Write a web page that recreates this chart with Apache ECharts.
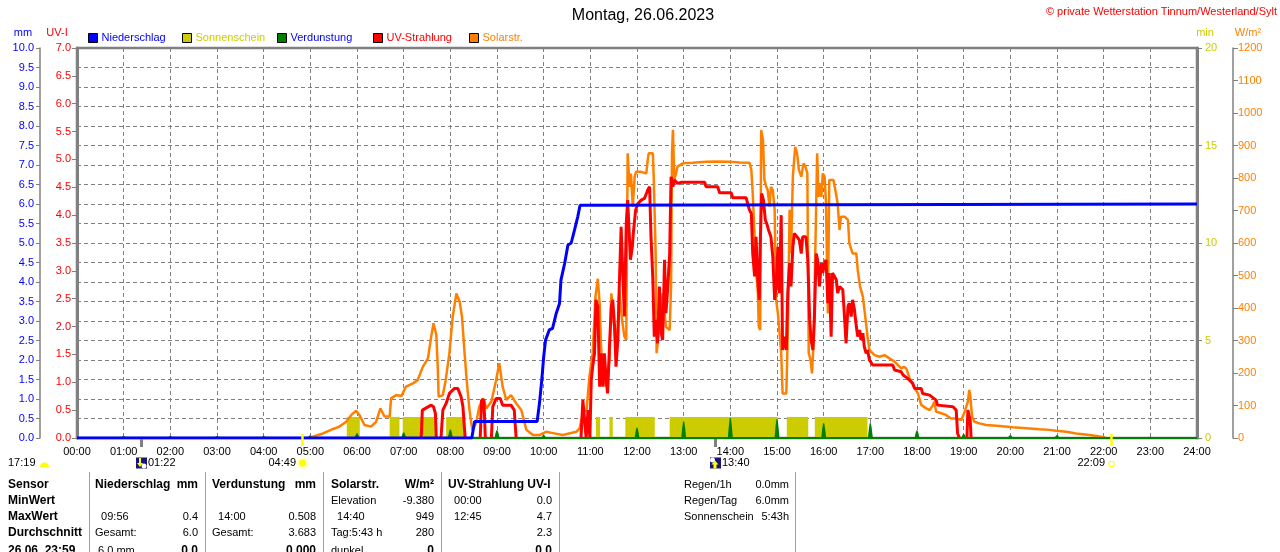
<!DOCTYPE html>
<html>
<head>
<meta charset="utf-8">
<title>Wetterstation Tinnum - 26.06.2023</title>
<script src="https://cdn.jsdelivr.net/npm/echarts/dist/echarts.min.js"></script>
<style>
  html, body { margin: 0; padding: 0; background: #fff; }
  #chart { width: 1280px; height: 552px; }
</style>
</head>
<body>
<div id="chart"></div>
<script>
// values, x in decimal hours of the day

// Niederschlag, cumulative mm
const rainHours = [0, 8.46, 8.52, 9.86, 9.91, 9.96, 10.00, 10.04, 10.12, 10.19, 10.27, 10.34, 10.37, 10.45, 10.52, 10.59, 10.66, 10.73, 10.78, 10.80, 24];
const rainMm    = [0, 0, 0.42, 0.42, 0.89, 1.49, 2.08, 2.51, 2.77, 2.81, 3.2, 3.45, 4.05, 4.48, 4.95, 5.0, 5.33, 5.67, 5.97, 6.0, 6.0];

// Sonnenschein blocks (start / end hour), bar height in min
const sunStart = [5.78, 6.70, 6.98, 7.91, 11.12, 11.41, 11.75, 12.70, 15.21, 15.81];
const sunEnd   = [6.06, 6.91, 7.68, 8.32, 11.21, 11.48, 12.38, 15.02, 15.67, 16.94];
const sunLevel = 1.08;

// Verdunstung per hour, mm
const verdHours = [1, 2, 3, 4, 5, 6, 7, 8, 9, 10, 11, 12, 13, 14, 15, 16, 17, 18, 19, 20, 21, 22, 23];
const verdMm    = [0.05, 0.05, 0.05, 0.05, 0.07, 0.12, 0.14, 0.22, 0.2, 0.08, 0.04, 0.26, 0.42, 0.51, 0.48, 0.38, 0.38, 0.19, 0.1, 0.07, 0.07, 0.04, 0.03];

// Solarstrahlung, W/m2
const solar = [
  [5.00,0],[5.05,4],[5.27,14],[5.48,27],[5.62,35],[5.77,50],[5.88,71],[5.98,84],[6.05,71],[6.16,40],
  [6.30,35],[6.41,50],[6.50,91],[6.59,66],[6.70,66],[6.73,122],[6.84,132],[6.95,129],[7.05,158],[7.20,168],
  [7.30,178],[7.41,219],[7.52,245],[7.59,312],[7.64,353],[7.70,317],[7.73,219],[7.75,127],[7.84,132],[7.90,178],
  [7.98,261],[8.05,373],[8.13,445],[8.20,419],[8.25,373],[8.30,271],[8.35,178],[8.41,86],[8.47,25],[8.55,45],
  [8.62,96],[8.70,122],[8.77,91],[8.88,112],[8.98,178],[9.05,230],[9.12,158],[9.20,117],[9.30,132],[9.41,107],
  [9.52,86],[9.63,25],[9.77,9],[9.91,9],[10.05,19],[10.20,15],[10.41,9],[10.70,19],[10.77,30],[10.84,76],
  [10.92,86],[10.98,189],[11.05,261],[11.11,435],[11.16,490],[11.20,414],[11.23,281],[11.27,189],[11.34,158],[11.41,240],
  [11.45,445],[11.48,404],[11.54,281],[11.59,342],[11.62,455],[11.68,363],[11.73,312],[11.77,302],[11.80,876],[11.84,773],
  [11.87,814],[11.91,712],[11.95,804],[11.98,819],[12.09,819],[12.20,814],[12.23,855],[12.25,876],[12.34,876],[12.36,794],
  [12.40,568],[12.42,261],[12.48,342],[12.55,445],[12.62,342],[12.70,332],[12.73,466],[12.75,876],[12.77,948],[12.80,794],
  [12.87,835],[12.98,845],[13.19,847],[13.48,850],[13.70,851],[13.98,850],[14.20,848],[14.41,847],[14.45,825],[14.48,753],
  [14.52,619],[14.55,517],[14.59,445],[14.61,342],[14.64,332],[14.66,948],[14.70,917],[14.73,794],[14.77,773],[14.80,763],
  [14.84,712],[14.87,773],[14.91,763],[14.95,702],[14.98,425],[15.02,383],[15.05,383],[15.09,261],[15.12,137],[15.20,137],
  [15.23,312],[15.27,702],[15.30,568],[15.34,804],[15.39,896],[15.43,876],[15.47,825],[15.52,804],[15.57,845],[15.61,835],
  [15.65,814],[15.68,261],[15.72,240],[15.75,199],[15.79,312],[15.82,568],[15.86,876],[15.89,742],[15.92,784],[15.95,742],
  [15.98,814],[16.02,804],[16.05,722],[16.09,383],[16.12,794],[16.16,799],[16.21,794],[16.25,763],[16.30,722],[16.34,640],
  [16.37,681],[16.45,681],[16.52,671],[16.55,599],[16.62,568],[16.70,568],[16.73,517],[16.78,466],[16.84,435],[16.90,363],
  [16.94,312],[16.98,271],[17.09,255],[17.20,250],[17.30,255],[17.41,245],[17.52,235],[17.66,214],[17.72,219],[17.77,214],
  [17.84,184],[17.95,153],[18.02,137],[18.09,102],[18.20,91],[18.27,86],[18.34,100],[18.37,112],[18.41,81],[18.52,76],
  [18.62,71],[18.73,60],[18.84,60],[18.95,55],[19.02,81],[19.09,112],[19.12,148],[19.14,132],[19.18,66],[19.23,50],
  [19.34,45],[19.48,40],[19.77,37],[20.05,33],[20.34,30],[20.62,27],[20.84,25],[20.87,28],[20.98,22],[21.20,19],
  [21.41,14],[21.70,9],[21.95,4],[22.02,1],[22.05,0]
];

// UV-Strahlung, UV-Index; the line is broken between the bursts
const uvSegments = [
  [[7.375,0],[7.40,0.5],[7.59,0.59],[7.64,0.56],[7.68,0.44],[7.70,0]],
  [[7.80,0],[7.84,0.5],[7.91,0.62],[7.98,0.8],[8.09,0.89],[8.16,0.89],[8.23,0.74],[8.27,0.56],[8.30,0.2],[8.32,0]],
  [[8.64,0],[8.67,0.68],[8.72,0.68],[8.75,0]],
  [[8.88,0],[8.91,0.56],[8.98,0.71],[9.07,0.71],[9.12,0.59],[9.30,0.59],[9.37,0.5],[9.41,0]],
  [[10.80,0],[10.84,0.68],[10.88,0.71],[10.91,0],[10.95,0.5],[10.99,0],[11.02,1.04],[11.05,1.28],[11.09,1.52],[11.12,2.48],
   [11.16,2.36],[11.20,0.92],[11.23,1.52],[11.27,0.92],[11.30,1.52],[11.34,1.04],[11.37,0.8],[11.41,1.64],[11.45,2.36],[11.48,2.48],
   [11.52,2.0],[11.55,1.28],[11.59,1.76],[11.62,2.72],[11.66,3.79],[11.69,3.07],[11.73,2.18],[11.77,3.85],[11.80,4.27],[11.82,3.91],
   [11.86,3.2],[11.90,3.43],[11.92,3.67],[11.97,4.09],[12.02,4.21],[12.09,4.27],[12.16,4.3],[12.23,4.45],[12.27,4.51],[12.30,3.61],
   [12.34,2.84],[12.37,1.82],[12.41,2.12],[12.44,1.7],[12.48,2.72],[12.52,1.88],[12.55,1.76],[12.59,3.2],[12.62,2.24],[12.66,2.72],
   [12.70,3.31],[12.73,4.69],[12.77,4.51],[12.80,4.63],[12.87,4.57],[12.95,4.59],[13.45,4.59],[13.48,4.51],[13.73,4.51],[13.77,4.4],
   [14.02,4.4],[14.05,4.31],[14.34,4.31],[14.37,4.21],[14.41,4.09],[14.45,4.03],[14.48,3.31],[14.52,2.9],[14.55,3.61],[14.59,2.84],
   [14.62,2.48],[14.64,3.43],[14.67,4.39],[14.71,4.27],[14.75,3.91],[14.78,3.85],[14.82,3.73],[14.87,3.61],[14.91,3.25],[14.95,2.48],
   [14.98,2.72],[15.02,3.43],[15.05,2.6],[15.09,4.0],[15.12,1.58],[15.16,1.82],[15.20,1.58],[15.23,2.6],[15.27,3.14],[15.30,2.72],
   [15.34,3.43],[15.37,3.67],[15.43,3.61],[15.48,3.55],[15.52,3.31],[15.55,3.61],[15.62,3.61],[15.66,3.2],[15.70,2.12],[15.73,1.76],
   [15.77,1.58],[15.80,2.12],[15.84,3.31],[15.87,3.2],[15.91,2.72],[15.95,3.14],[15.98,2.96],[16.02,3.14],[16.05,3.2],[16.09,2.42],
   [16.12,2.96],[16.16,1.82],[16.19,2.96],[16.23,2.96],[16.27,2.84],[16.30,2.6],[16.34,2.72],[16.41,2.66],[16.45,2.12],[16.48,1.7],
   [16.52,2.36],[16.55,2.42],[16.59,2.18],[16.62,2.48],[16.66,2.3],[16.70,2.0],[16.73,1.82],[16.77,1.94],[16.80,1.76],[16.84,1.88],
   [16.87,1.64],[16.91,1.52],[16.94,1.58],[16.98,1.4],[17.05,1.31],[17.48,1.31],[17.52,1.22],[17.66,1.19],[17.70,1.13],[17.80,1.07],
   [17.91,0.98],[17.95,0.89],[18.09,0.89],[18.12,0.8],[18.27,0.77],[18.41,0.68],[18.44,0.59],[18.77,0.56],[18.84,0.5],[18.87,0.08],
   [18.91,0]],
  [[19.07,0],[19.09,0.5],[19.14,0.32],[19.16,0]]
];

// sun / moon events below the time axis
const eventTimes = ['01:22', '04:49', '13:40', '22:09'];
const eventKinds = ['moonset', 'sunrise', 'moonrise', 'sunset'];
const prevMoonTime = '17:19';

// table under the chart
const rowLabels = ['Sensor', 'MinWert', 'MaxWert', 'Durchschnitt', '26.06. 23:59'];
const tableColumns = [
  { head: ['Niederschlag', 'mm'], rows: [['', ''], ['  09:56', '0.4'], ['Gesamt:', '6.0'], [' 6.0 mm', '0.0']] },
  { head: ['Verdunstung', 'mm'],  rows: [['', ''], ['  14:00', '0.508'], ['Gesamt:', '3.683'], ['', '0.000']] },
  { head: ['Solarstr.', 'W/m²'],  rows: [['Elevation', '-9.380'], ['  14:40', '949'], ['Tag:5:43 h', '280'], ['dunkel', '0']] },
  { head: ['UV-Strahlung UV-I', ''], rows: [['  00:00', '0.0'], ['  12:45', '4.7'], ['', '2.3'], ['', '0.0']] }
];
const summaryLabels = ['Regen/1h', 'Regen/Tag', 'Sonnenschein'];
const summaryValues = ['0.0mm', '6.0mm', '5:43h'];

const legendNames = ['Niederschlag', 'Sonnenschein', 'Verdunstung', 'UV-Strahlung', 'Solarstr.'];

// ---------------------------------------------------------------

const FONT = '"Liberation Sans", Arial, sans-serif';
const font = (size, bold) => (bold ? 'bold ' : '') + size + 'px ' + FONT;
const toHours = t => { const p = t.split(':').map(Number); return p[0] + p[1] / 60; };

const BLUE = '#0000ff', RED = '#ff0000', ORANGE = '#ff8000', YELLOW = '#cccc00', GREEN = '#008000', GRAY = '#808080';

const rainData = rainHours.map((h, i) => [h, rainMm[i]]);
const sunData = sunStart.map((s, i) => [s, sunEnd[i], sunLevel]);
const verdData = verdHours.map((h, i) => [h, verdMm[i]]);
const uvData = [];
uvSegments.forEach((seg, i) => {
  seg.forEach(p => uvData.push(p));
  if (i < uvSegments.length - 1) uvData.push([seg[seg.length - 1][0], '-']);
});
const eventData = eventTimes.map(t => [toHours(t), 0]);

function renderSun(params, api) {
  const a = api.coord([api.value(0), 0]);
  const b = api.coord([api.value(1), api.value(2)]);
  return {
    type: 'rect',
    shape: { x: a[0], y: b[1], width: b[0] - a[0], height: a[1] - b[1] },
    style: { fill: YELLOW }
  };
}

function renderVerd(params, api) {
  const base = api.coord([api.value(0), 0]);
  const top = api.coord([api.value(0), api.value(1)]);
  const x = base[0], y0 = base[1], h = y0 - top[1];
  return {
    type: 'polygon',
    shape: { points: [[x - 2.5, y0], [x - 1.5, y0 - h * 0.6], [x - 0.6, top[1]], [x + 0.6, top[1]], [x + 1.5, y0 - h * 0.6], [x + 2.5, y0]] },
    style: { fill: GREEN }
  };
}

function renderEvent(params, api) {
  const i = params.dataIndex;
  const kind = eventKinds[i];
  const p = api.coord([api.value(0), 0]);
  const x = Math.round(p[0]) + 0.5, y0 = p[1];
  const iy = y0 + 25;
  const kids = [];
  if (kind === 'moonset' || kind === 'moonrise') {
    kids.push({ type: 'line', shape: { x1: x, y1: y0 + 1, x2: x, y2: y0 + 9 }, style: { stroke: GRAY, lineWidth: 3 } });
    kids.push({ type: 'rect', shape: { x: x - 5.5, y: iy - 5.5, width: 11, height: 11 }, style: { fill: '#16167a' } });
    if (kind === 'moonset') {
      kids.push({ type: 'circle', shape: { cx: x + 2.5, cy: iy + 3, r: 2.5 }, style: { fill: '#ffffff' } });
      kids.push({ type: 'polygon', shape: { points: [[x - 2.5, iy - 5], [x - 0.5, iy - 5], [x - 0.5, iy], [x + 1.5, iy], [x - 1.5, iy + 4], [x - 4.5, iy], [x - 2.5, iy]] }, style: { fill: '#ffff00' } });
    } else {
      kids.push({ type: 'circle', shape: { cx: x - 3, cy: iy - 3, r: 2.5 }, style: { fill: '#ffffff' } });
      kids.push({ type: 'polygon', shape: { points: [[x - 0.5, iy - 2.5], [x + 3, iy + 1.5], [x + 1, iy + 1.5], [x + 1, iy + 5.5], [x - 2, iy + 5.5], [x - 2, iy + 1.5], [x - 4, iy + 1.5]] }, style: { fill: '#ffff00' } });
    }
    kids.push({ type: 'text', x: x + 6.5, y: iy, style: { text: eventTimes[i], align: 'left', verticalAlign: 'middle', font: font(11), fill: '#000' } });
  } else {
    kids.push({ type: 'line', shape: { x1: x, y1: y0 - 4, x2: x, y2: y0 + 8 }, style: { stroke: '#ffff00', lineWidth: 2.5 } });
    if (kind === 'sunrise') {
      kids.push({ type: 'circle', shape: { cx: x, cy: iy, r: 5.5 }, style: { fill: 'none', stroke: '#ffff99', lineWidth: 1.5, lineDash: [1.5, 1.5] } });
      kids.push({ type: 'circle', shape: { cx: x, cy: iy, r: 3.8 }, style: { fill: '#ffff00' } });
    } else {
      kids.push({ type: 'rect', shape: { x: x - 2.5, y: iy - 1.5, width: 5, height: 5, r: 1.5 }, style: { fill: 'none', stroke: '#ffff00', lineWidth: 1.2 } });
    }
    kids.push({ type: 'text', x: x - 6.5, y: iy, style: { text: eventTimes[i], align: 'right', verticalAlign: 'middle', font: font(11), fill: '#000' } });
  }
  return { type: 'group', children: kids };
}

// --- static texts: title, units, legend, table
const graphics = [];
function txt(text, x, y, opts) {
  opts = opts || {};
  graphics.push({
    type: 'text', x: x, y: y, silent: true,
    style: { text: text, align: opts.align || 'left', verticalAlign: 'middle', font: font(opts.size || 11, opts.bold), fill: opts.color || '#000' }
  });
}

txt('Montag, 26.06.2023', 643, 16, { align: 'center', size: 16 });
txt('© private Wetterstation Tinnum/Westerland/Sylt', 1277, 12, { align: 'right', color: RED });

txt('mm', 23, 33, { align: 'center', color: BLUE });
txt('UV-I', 57, 33, { align: 'center', color: RED });
txt('min', 1205, 33, { align: 'center', color: YELLOW });
txt('W/m²', 1248, 33, { align: 'center', color: ORANGE });

const legendX = [88, 182, 277, 373, 469];
const legendFill = [BLUE, YELLOW, GREEN, RED, ORANGE];
const legendText = [BLUE, YELLOW, BLUE, RED, ORANGE];
legendNames.forEach((name, i) => {
  graphics.push({ type: 'rect', silent: true, shape: { x: legendX[i] + 0.5, y: 33.5, width: 9, height: 9 }, style: { fill: legendFill[i], stroke: '#000', lineWidth: 1 } });
  txt(name, legendX[i] + 13.5, 38, { color: legendText[i] });
});

// label below the time axis for the moon event of the day before
txt(prevMoonTime, 8, 463);
graphics.push({ type: 'sector', silent: true, shape: { cx: 44.5, cy: 467, r: 4.5, startAngle: Math.PI, endAngle: Math.PI * 2 }, style: { fill: '#ffff00' } });

// table
const rowY = [485, 501, 517, 533, 551];
const colLeft = [95, 212, 331, 448];
const colRight = [198, 316, 434, 552];
[89, 205, 323, 441, 559, 795].forEach(x => {
  graphics.push({ type: 'line', silent: true, shape: { x1: x + 0.5, y1: 472, x2: x + 0.5, y2: 552 }, style: { stroke: '#a0a0a0', lineWidth: 1 } });
});
rowLabels.forEach((label, r) => txt(label, 8, rowY[r], { bold: true, size: 12 }));
tableColumns.forEach((col, c) => {
  txt(col.head[0], colLeft[c], rowY[0], { bold: true, size: 12 });
  if (col.head[1]) txt(col.head[1], colRight[c], rowY[0], { bold: true, size: 12, align: 'right' });
  col.rows.forEach((row, r) => {
    const last = r === col.rows.length - 1;
    if (row[0]) txt(row[0], colLeft[c], rowY[r + 1]);
    if (row[1]) txt(row[1], colRight[c], rowY[r + 1], { align: 'right', bold: last, size: last ? 12 : 11 });
  });
});
summaryLabels.forEach((label, r) => {
  txt(label, 684, rowY[r]);
  txt(summaryValues[r], 789, rowY[r], { align: 'right' });
});

// --- chart
const axisLabelFont = { fontFamily: FONT, fontSize: 11 };

const option = {
  animation: false,
  backgroundColor: '#ffffff',
  grid: { left: 77, right: 83, top: 48, bottom: 114, show: true, borderColor: GRAY, borderWidth: 2.5, containLabel: false },
  xAxis: {
    type: 'value', min: 0, max: 24, interval: 1,
    axisLine: { show: true, lineStyle: { color: GRAY, width: 2 } },
    axisTick: { show: false },
    axisLabel: Object.assign({ color: '#000', margin: 8, showMinLabel: true, showMaxLabel: true,
      formatter: v => (v < 10 ? '0' : '') + v + ':00' }, axisLabelFont),
    splitLine: { show: true, lineStyle: { color: GRAY, type: [4, 3], width: 1 } }
  },
  yAxis: [
    { // 0: UV-I
      type: 'value', position: 'left', offset: 0, min: 0, max: 7, interval: 0.5,
      axisLine: { show: true, lineStyle: { color: GRAY, width: 3 } },
      axisTick: { show: true, length: 5, lineStyle: { color: GRAY, width: 1 } },
      axisLabel: Object.assign({ color: RED, margin: 6, formatter: v => v.toFixed(1) }, axisLabelFont),
      splitLine: { show: false }
    },
    { // 1: mm
      type: 'value', position: 'left', offset: 37, min: 0, max: 10, interval: 0.5,
      axisLine: { show: true, lineStyle: { color: GRAY, width: 1.5 } },
      axisTick: { show: true, length: 4, lineStyle: { color: GRAY, width: 1 } },
      axisLabel: Object.assign({ color: BLUE, margin: 6, formatter: v => v.toFixed(1) }, axisLabelFont),
      splitLine: { show: true, lineStyle: { color: GRAY, type: [4, 3], width: 1 } }
    },
    { // 2: min
      type: 'value', position: 'right', offset: 0, min: 0, max: 20, interval: 5,
      axisLine: { show: true, lineStyle: { color: GRAY, width: 3 } },
      axisTick: { show: true, length: 5, lineStyle: { color: GRAY, width: 1 } },
      axisLabel: Object.assign({ color: YELLOW, margin: 8, formatter: v => String(v) }, axisLabelFont),
      splitLine: { show: false }
    },
    { // 3: W/m2
      type: 'value', position: 'right', offset: 36, min: 0, max: 1200, interval: 100,
      axisLine: { show: true, lineStyle: { color: GRAY, width: 1.5 } },
      axisTick: { show: true, length: 5, lineStyle: { color: GRAY, width: 1 } },
      axisLabel: Object.assign({ color: ORANGE, margin: 5, formatter: v => String(v) }, axisLabelFont),
      splitLine: { show: false }
    }
  ],
  series: [
    {
      name: 'Sonnenschein', type: 'custom', yAxisIndex: 2, z: 1, silent: true,
      renderItem: renderSun, encode: { x: [0, 1], y: 2 }, data: sunData
    },
    {
      name: 'Verdunstung', type: 'custom', yAxisIndex: 1, z: 2, silent: true,
      renderItem: renderVerd, encode: { x: 0, y: 1 }, data: verdData,
      markLine: { silent: true, symbol: 'none', label: { show: false },
        lineStyle: { color: GREEN, width: 2, type: 'solid' }, data: [{ yAxis: 0 }] }
    },
    {
      name: 'Solarstr.', type: 'line', yAxisIndex: 3, z: 3, silent: true,
      showSymbol: false, connectNulls: false, data: solar,
      lineStyle: { color: ORANGE, width: 2.5 }, itemStyle: { color: ORANGE }
    },
    {
      name: 'UV-Strahlung', type: 'line', yAxisIndex: 0, z: 4, silent: true,
      showSymbol: false, connectNulls: false, data: uvData,
      lineStyle: { color: RED, width: 3 }, itemStyle: { color: RED }
    },
    {
      name: 'Niederschlag', type: 'line', yAxisIndex: 1, z: 5, silent: true,
      showSymbol: false, data: rainData,
      lineStyle: { color: BLUE, width: 3 }, itemStyle: { color: BLUE }
    },
    {
      name: 'Ereignisse', type: 'custom', yAxisIndex: 1, z: 6, silent: true, clip: false,
      renderItem: renderEvent, encode: { x: 0, y: 1 }, data: eventData
    }
  ],
  graphic: graphics
};

const chart = echarts.init(document.getElementById('chart'));
chart.setOption(option);
</script>
</body>
</html>
